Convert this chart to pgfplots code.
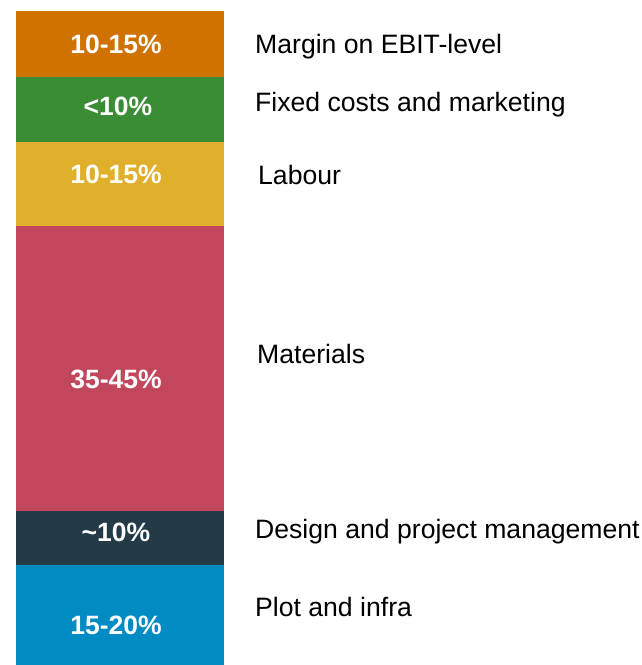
\documentclass[border=0pt]{standalone}
\usepackage{fontspec}
\setmainfont{Liberation Sans}
\usepackage{pgfplots}
\pgfplotsset{compat=1.18}
\definecolor{cMargin}{RGB}{208,114,0}
\definecolor{cFixed}{RGB}{58,140,53}
\definecolor{cLabour}{RGB}{224,176,44}
\definecolor{cMat}{RGB}{194,71,92}
\definecolor{cDesign}{RGB}{36,59,71}
\definecolor{cPlot}{RGB}{0,139,194}
\pgfplotsset{base/.style={
  scale only axis, width=642bp, height=665bp,
  xmin=0, xmax=642, ymin=0, ymax=665,
  hide axis, clip=false}}

\begin{document}
\begin{tikzpicture}
\useasboundingbox (0,0) rectangle (642bp,665bp);
\begin{axis}[base, ybar stacked, bar width=208bp]
  % segment heights, bottom to top
  \addplot[fill=cPlot, draw=none] coordinates {(120,100)};
  \addplot[fill=cDesign, draw=none] coordinates {(120,54)};
  \addplot[fill=cMat, draw=none] coordinates {(120,285)};
  \addplot[fill=cLabour, draw=none] coordinates {(120,84)};
  \addplot[fill=cFixed, draw=none] coordinates {(120,65)};
  \addplot[fill=cMargin, draw=none] coordinates {(120,66)};
\end{axis}
\begin{axis}[base]
  % labels inside the bar (baseline heights)
  \addplot[draw=none, mark=none, nodes near coords, point meta=explicit symbolic,
    nodes near coords style={anchor=base, text=white, inner sep=0pt,
      font=\fontsize{26.6}{30}\selectfont\bfseries}]
    coordinates {(116,30) [15-20\%] (116,123) [\textasciitilde10\%]
      (116,276) [35-45\%] (116,481) [10-15\%] (118,549) [<10\%] (116,611) [10-15\%]};
  % category names on the right
  \addplot[draw=none, mark=none, nodes near coords, point meta=explicit symbolic,
    nodes near coords style={anchor=base west, inner sep=0pt,
      font=\fontsize{26.7}{30}\selectfont}]
    coordinates {(255,611) [Margin on EBIT-level] (255,553) [Fixed costs and marketing]
      (258,480) [Labour] (257,301) [Materials]
      (255,126) [Design and project management] (255,48) [Plot and infra]};
\end{axis}
\end{tikzpicture}
\end{document}
